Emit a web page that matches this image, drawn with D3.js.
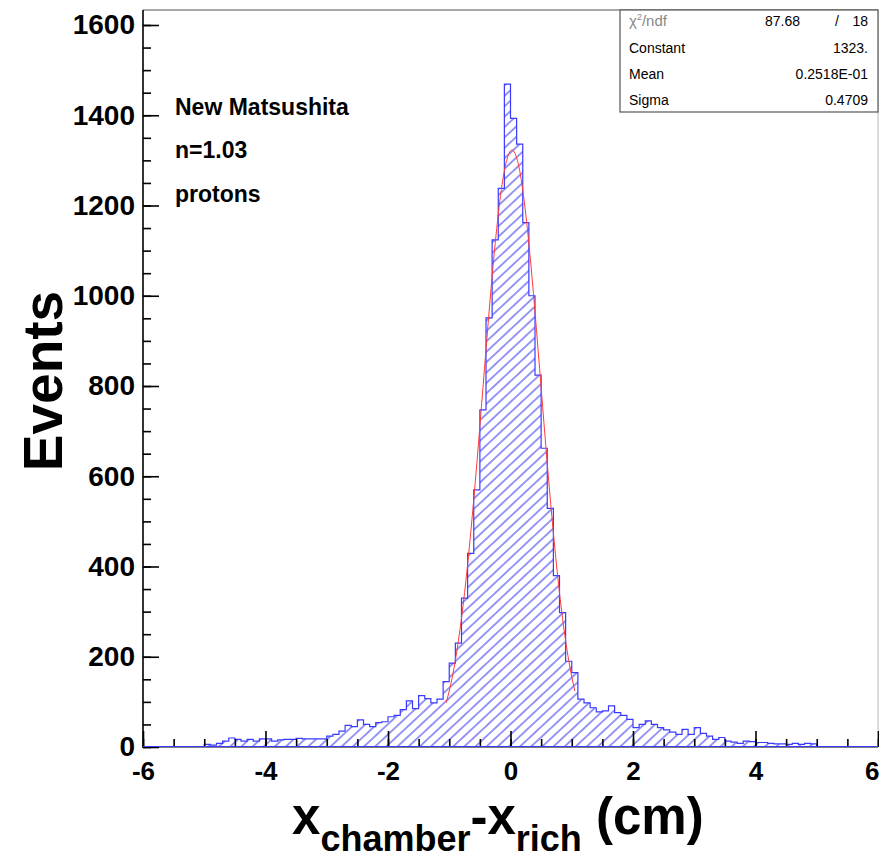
<!DOCTYPE html>
<html><head><meta charset="utf-8">
<script src="https://cdn.jsdelivr.net/npm/d3@7"></script>
<style>body{margin:0;background:#fff;} svg{display:block;}</style>
</head><body>
<svg id="chart" width="879" height="864"></svg>
<script>
// ---- data ----
const binLow = -6, binWidth = 0.1;
const counts = [
  0,0,0,0,0,0,0,0,0,0,
  6,4,8,13,20,17,13,17,13,18,
  18,13,16,17,17,19,18,18,18,18,
  24,28,35,48,45,60,50,45,54,56,
  67,70,83,102,85,114,107,98,106,145,
  186,230,330,429,570,747,951,1124,1238,1469,
  1393,1336,1162,1000,824,662,529,380,298,190,
  165,106,98,87,78,80,91,76,70,61,
  43,50,58,50,43,38,33,28,39,28,
  43,30,24,17,21,13,11,8,13,12,
  10,10,8,7,7,6,8,6,8,7,
  0,0,0,0,0,0,0,0,0,0
];
const fitX = [-1.05,-0.95,-0.85,-0.75,-0.65,-0.55,-0.45,-0.35,-0.25,-0.15,-0.05,0.025,0.05,0.15,0.25,0.35,0.45,0.55,0.65,0.75,0.85,0.95,1.05];
const fitY = [98,155,236,342,474,628,796,964,1116,1235,1306,1323,1321,1277,1180,1043,881,711,549,405,285,192,124];
const xMajorTicks = [-6,-4,-2,0,2,4,6];
const xMinorTicks = d3.range(-6, 6.01, 0.5);
const yMajorTicks = [0,200,400,600,800,1000,1200,1400,1600];
const yMinorTicks = d3.range(0, 1601, 50);
const infoLines = ["New Matsushita", "n=1.03", "protons"];
const statsNames = ["Constant", "Mean", "Sigma"];
const statsValues = ["1323.", "0.2518E-01", "0.4709"];
const chi2Value = "87.68", ndfValue = "18";

// ---- layout ----
const svg = d3.select("#chart");
const L = 143, R = 878, T = 10, B = 747;
const x = d3.scaleLinear().domain([-6, 6]).range([L, R]);
const y = d3.scaleLinear().domain([0, 1600]).range([B, 25]);
const FONT = "'Liberation Sans', Arial, Helvetica, sans-serif";

const defs = svg.append("defs");
const pat = defs.append("pattern").attr("id", "hatch")
  .attr("patternUnits", "userSpaceOnUse").attr("width", 10).attr("height", 7.6)
  .attr("patternTransform", "rotate(-43)");
pat.append("line").attr("x1", 0).attr("x2", 10).attr("y1", 3.8).attr("y2", 3.8)
  .attr("stroke", "#5a5af2").attr("stroke-width", 1.25);
defs.append("clipPath").attr("id", "plotclip").append("rect")
  .attr("x", L).attr("y", T).attr("width", R - L).attr("height", B - T);

// histogram outline points
const pts = [[binLow, 0]];
counts.forEach((c, i) => {
  const x0 = binLow + i * binWidth, x1 = binLow + (i + 1) * binWidth;
  pts.push([x0, c], [x1, c]);
});
pts.push([binLow + counts.length * binWidth, 0]);
const line = d3.line().x(d => x(d[0])).y(d => y(d[1]));

const g = svg.append("g").attr("clip-path", "url(#plotclip)");
g.append("path").attr("d", line(pts) + "Z").attr("fill", "url(#hatch)").attr("stroke", "none");
g.append("path").attr("d", line(pts)).attr("fill", "none")
  .attr("stroke", "#3a3aff").attr("stroke-width", 1.2);

// fit curve
const fitLine = d3.line().x((d, i) => x(fitX[i])).y(d => y(d)).curve(d3.curveMonotoneX);
g.append("path").attr("d", fitLine(fitY)).attr("fill", "none")
  .attr("stroke", "#ff3a3a").attr("stroke-width", 1);

// frame
svg.append("line").attr("x1", L).attr("x2", R).attr("y1", T).attr("y2", T)
  .attr("stroke", "#555").attr("stroke-width", 1.2);
svg.append("line").attr("x1", R).attr("x2", R).attr("y1", T).attr("y2", B)
  .attr("stroke", "#bbb").attr("stroke-width", 1);

// axes
const fmt = d => String(d);
const xMinor = d3.axisBottom(x).tickValues(xMinorTicks).tickSize(-8).tickFormat("");
const xMajor = d3.axisBottom(x).tickValues(xMajorTicks).tickSize(-16).tickPadding(15).tickFormat(fmt);
const yMinor = d3.axisLeft(y).tickValues(yMinorTicks).tickSize(-8).tickFormat("");
const yMajor = d3.axisLeft(y).tickValues(yMajorTicks).tickSize(-16).tickPadding(8).tickFormat(fmt);

function styleAxis(sel, fs) {
  sel.select(".domain").remove();
  sel.selectAll(".tick line").attr("stroke", "#000").attr("stroke-width", 1.6);
  sel.selectAll(".tick text").attr("fill", "#000").style("font-family", FONT)
    .style("font-weight", "bold").style("font-size", fs + "px");
}
svg.append("g").attr("transform", `translate(0,${B})`).call(xMinor).call(s => styleAxis(s, 26));
const xg = svg.append("g").attr("transform", `translate(0,${B})`).call(xMajor).call(s => styleAxis(s, 26));
// keep the last label inside the window
xg.selectAll(".tick text").filter(d => d === 6).attr("text-anchor", "end").attr("x", 1);
svg.append("g").attr("transform", `translate(${L},0)`).call(yMinor).call(s => styleAxis(s, 28));
svg.append("g").attr("transform", `translate(${L},0)`).call(yMajor).call(s => styleAxis(s, 28));

// axis lines
svg.append("line").attr("x1", L).attr("x2", L).attr("y1", T).attr("y2", B + 1)
  .attr("stroke", "#000").attr("stroke-width", 1.6);
svg.append("line").attr("x1", L).attr("x2", R).attr("y1", B).attr("y2", B)
  .attr("stroke", "#000").attr("stroke-width", 1.2);
svg.append("line").attr("x1", L).attr("x2", R).attr("y1", B - 0.5).attr("y2", B - 0.5)
  .attr("stroke", "#3a3aff").attr("stroke-width", 1);

// info text
const infoY = [115, 158, 202];
infoLines.forEach((t, i) => {
  svg.append("text").attr("x", 175).attr("y", infoY[i]).text(t)
    .style("font-family", FONT).style("font-weight", "bold").style("font-size", "23px");
});

// stats box
const bx = 620, by = 10, bw = 258, bh = 102;
svg.append("rect").attr("x", bx).attr("y", by).attr("width", bw).attr("height", bh)
  .attr("fill", "#fff").attr("stroke", "#555").attr("stroke-width", 1.2);
const rowY = [28, 55, 81, 107];
const chi = svg.append("text").attr("x", bx + 9).attr("y", rowY[0] - 2)
  .style("font-family", FONT).style("font-size", "15px").attr("fill", "#888");
chi.append("tspan").text("χ");
chi.append("tspan").text("2").attr("dy", -6).style("font-size", "9px");
chi.append("tspan").text("/ndf").attr("dy", 6);
svg.append("text").attr("x", 800).attr("y", rowY[0] - 2).attr("text-anchor", "end").text(chi2Value)
  .style("font-family", FONT).style("font-size", "14px");
svg.append("text").attr("x", 837).attr("y", rowY[0] - 2).attr("text-anchor", "middle").text("/")
  .style("font-family", FONT).style("font-size", "14px");
svg.append("text").attr("x", 868).attr("y", rowY[0] - 2).attr("text-anchor", "end").text(ndfValue)
  .style("font-family", FONT).style("font-size", "14px");
statsNames.forEach((n, i) => {
  svg.append("text").attr("x", bx + 9).attr("y", rowY[i + 1] - 2).text(n)
    .style("font-family", FONT).style("font-size", "14px");
  svg.append("text").attr("x", 868).attr("y", rowY[i + 1] - 2).attr("text-anchor", "end").text(statsValues[i])
    .style("font-family", FONT).style("font-size", "14px");
});

// axis titles
svg.append("text").attr("transform", "translate(62,381) rotate(-90)").attr("text-anchor", "middle")
  .text("Events").style("font-family", FONT).style("font-weight", "bold").style("font-size", "55px");

const xt = svg.append("text").attr("x", 292).attr("y", 834)
  .style("font-family", FONT).style("font-weight", "bold").style("font-size", "51px");
xt.append("tspan").text("x");
xt.append("tspan").text("chamber").attr("dy", 17).style("font-size", "36px");
xt.append("tspan").text("-x").attr("dy", -17);
xt.append("tspan").text("rich").attr("dy", 17).style("font-size", "36px");
xt.append("tspan").text("\u00a0(cm)").attr("dy", -17);
</script>
</body></html>
